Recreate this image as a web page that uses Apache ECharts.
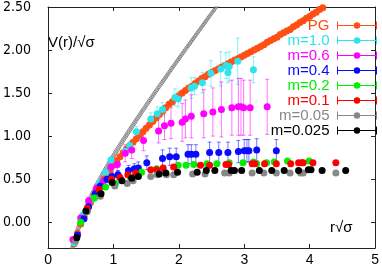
<!DOCTYPE html>
<html><head><meta charset="utf-8">
<script src="https://cdn.jsdelivr.net/npm/echarts@6/dist/echarts.min.js"></script>
<style>html,body{margin:0;padding:0;background:#fff}#c{width:382px;height:269px}</style>
</head><body><div id="c"></div>
<script>
// ---- axes ----
const xTicks = [0, 1, 2, 3, 4, 5];
const yTicks = [0, 0.5, 1, 1.5, 2, 2.5];

// ---- gray reference curves ----
const curveR  = [0.34,0.38,0.42,0.46,0.5,0.55,0.6,0.7,0.8,0.9,1.0,1.2,1.4,1.6,1.8,2.0,2.2,2.4,2.6,2.7];
const curveV1 = [-0.480,-0.351,-0.242,-0.144,-0.054,0.048,0.141,0.308,0.458,0.597,0.728,0.976,1.209,1.435,1.653,1.870,2.082,2.293,2.502,2.606];
const curveV2 = [-0.427,-0.302,-0.197,-0.101,-0.013,0.087,0.177,0.341,0.489,0.625,0.755,1.001,1.232,1.456,1.674,1.890,2.101,2.312,2.521,2.625];
const curveV3 = [-0.374,-0.254,-0.151,-0.059,0.027,0.125,0.213,0.374,0.520,0.654,0.782,1.026,1.255,1.478,1.695,1.910,2.121,2.331,2.540,2.644];
const curveV4 = [-0.321,-0.205,-0.105,-0.016,0.067,0.163,0.249,0.407,0.550,0.682,0.809,1.050,1.278,1.500,1.716,1.930,2.140,2.350,2.558,2.662];

// ---- PG : [r, V, err] ----
const pgData = [[0.40,-0.25,0.02],[0.45,-0.13,0.02],[0.50,-0.02,0.02],[0.55,0.07,0.02],[0.60,0.15,0.02],[0.65,0.23,0.02],[0.70,0.30,0.02],[0.75,0.37,0.02],[0.80,0.43,0.02],[0.85,0.49,0.02],[0.90,0.55,0.02],[0.95,0.61,0.02],[1.00,0.66,0.02],[1.05,0.71,0.02],[1.10,0.76,0.02],[1.15,0.81,0.02],[1.20,0.85,0.02],[1.25,0.89,0.02],[1.30,0.93,0.02],[1.35,0.97,0.02],[1.40,1.01,0.02],[1.45,1.05,0.02],[1.50,1.09,0.02],[1.55,1.13,0.02],[1.60,1.17,0.02],[1.65,1.21,0.02],[1.70,1.25,0.02],[1.75,1.29,0.02],[1.80,1.33,0.02],[1.85,1.37,0.02],[1.90,1.40,0.02],[1.95,1.44,0.02],[2.00,1.47,0.02],[2.05,1.50,0.02],[2.10,1.53,0.02],[2.15,1.56,0.02],[2.20,1.58,0.02],[2.25,1.61,0.02],[2.30,1.64,0.02],[2.35,1.67,0.02],[2.40,1.69,0.02],[2.45,1.72,0.02],[2.50,1.74,0.02],[2.55,1.76,0.02],[2.60,1.78,0.02],[2.65,1.80,0.02],[2.70,1.82,0.02],[2.75,1.84,0.02],[2.80,1.86,0.02],[2.85,1.88,0.02],[2.90,1.90,0.02],[2.95,1.92,0.02],[3.00,1.94,0.02],[3.05,1.96,0.02],[3.10,1.98,0.02],[3.15,2.00,0.02],[3.20,2.02,0.02],[3.25,2.04,0.02],[3.30,2.06,0.02],[3.35,2.09,0.02],[3.40,2.11,0.02],[3.45,2.13,0.02],[3.50,2.15,0.02],[3.55,2.18,0.02],[3.60,2.20,0.02],[3.65,2.22,0.02],[3.70,2.24,0.02],[3.75,2.27,0.02],[3.80,2.29,0.02],[3.85,2.32,0.02],[3.90,2.34,0.02],[3.95,2.37,0.02],[4.00,2.39,0.02],[4.05,2.42,0.02],[4.10,2.44,0.02],[4.15,2.47,0.02],[4.20,2.49,0.02]];

// ---- m=1.0 ----
const m10Data = [[0.40,-0.24,0.02],[0.53,0.08,0.02],[0.68,0.27,0.03],[0.79,0.46,0.03],[0.88,0.58,0.04],[0.96,0.72,0.04],[1.18,0.82,0.05],[1.25,0.89,0.05],[1.35,1.05,0.06],[1.57,1.20,0.07],[1.67,1.26,0.08],[1.75,1.31,0.08],[1.94,1.45,0.10],[1.99,1.43,0.09],[2.19,1.56,0.12],[2.24,1.58,0.10],[2.36,1.62,0.12],[2.49,1.73,0.15],[2.64,1.78,0.20],[2.72,1.82,0.15],[2.75,1.74,0.12],[2.77,1.81,0.17],[2.90,1.87,0.27],[3.14,1.77,0.15]];

// ---- m=0.6 ----
const m06Data = [[0.38,-0.20,0.02],[0.50,0.05,0.03],[0.62,0.25,0.04],[0.74,0.39,0.05],[0.84,0.47,0.06],[0.96,0.64,0.08],[1.06,0.67,0.08],[1.18,0.80,0.10],[1.28,0.84,0.10],[1.46,0.95,0.12],[1.69,1.06,0.14],[1.78,1.12,0.16],[1.88,1.15,0.18],[2.05,1.16,0.22],[2.10,1.20,0.22],[2.19,1.23,0.25],[2.38,1.26,0.28],[2.52,1.28,0.28],[2.65,1.31,0.32],[2.81,1.33,0.32],[2.91,1.34,0.33],[2.95,1.34,0.33],[2.99,1.33,0.32],[3.09,1.33,0.32],[3.35,1.34,0.32]];

// ---- m=0.4 ----
const m04Data = [[0.45,-0.15,0.02],[0.55,0.04,0.02],[0.62,0.18,0.03],[0.72,0.33,0.03],[0.80,0.42,0.04],[0.90,0.50,0.04],[0.98,0.53,0.05],[1.07,0.55,0.05],[1.23,0.60,0.06],[1.32,0.62,0.06],[1.38,0.63,0.07],[1.51,0.69,0.08],[1.75,0.74,0.10],[1.86,0.76,0.10],[1.96,0.76,0.10],[2.14,0.79,0.11],[2.19,0.79,0.11],[2.26,0.79,0.11],[2.47,0.81,0.12],[2.61,0.81,0.12],[2.75,0.81,0.12],[2.91,0.82,0.13],[3.00,0.83,0.13],[3.04,0.83,0.13],[3.07,0.83,0.13],[3.19,0.84,0.13],[3.49,0.83,0.13]];

// ---- m=0.2 ----
const m02Data = [[0.50,0.00],[0.71,0.28],[0.88,0.41],[1.03,0.45],[1.26,0.52],[1.43,0.58],[1.66,0.62],[1.99,0.66],[2.11,0.66],[2.23,0.67],[2.43,0.68],[2.58,0.68],[2.77,0.69],[2.98,0.69],[3.14,0.70],[3.19,0.68],[3.34,0.69],[3.46,0.70],[3.66,0.71],[3.99,0.71]];

// ---- m=0.1 ----
const m01Data = [[0.42,-0.20],[0.60,0.16],[0.78,0.38],[0.97,0.50],[1.10,0.52],[1.22,0.55],[1.34,0.57],[1.57,0.61],[1.66,0.61],[1.76,0.63],[1.92,0.64],[2.33,0.66],[2.47,0.66],[2.72,0.67],[2.76,0.67],[3.12,0.68],[3.16,0.68],[3.31,0.68],[3.49,0.68],[3.71,0.68],[3.83,0.69],[3.88,0.69],[3.90,0.69],[4.05,0.69],[4.40,0.69]];

// ---- m=0.05 ----
const m005Data = [[0.42,-0.22],[0.60,0.12],[0.80,0.30],[1.02,0.42],[1.21,0.45],[1.30,0.48],[1.57,0.53],[1.67,0.55],[1.81,0.55],[1.92,0.55],[2.21,0.56],[2.40,0.56],[2.70,0.57],[2.77,0.57],[3.12,0.57],[3.30,0.57],[3.49,0.57],[3.70,0.57],[3.86,0.57],[3.90,0.57],[4.40,0.57]];

// ---- m=0.025 ----
const m0025Data = [[0.44,-0.18],[0.58,0.13],[0.81,0.33],[0.98,0.46],[1.13,0.48],[1.28,0.51],[1.38,0.53],[1.70,0.56],[1.80,0.57],[1.98,0.58],[2.28,0.58],[2.42,0.60],[2.55,0.60],[2.80,0.60],[2.85,0.60],[2.96,0.60],[3.23,0.60],[3.42,0.60],[3.61,0.60],[3.83,0.60],[3.98,0.61],[4.02,0.61],[4.19,0.60],[4.55,0.60]];

const seriesDefs = [
  {name: 'PG',      color: '#ff4f14', data: pgData},
  {name: 'm=1.0',   color: '#2ee4ec', data: m10Data},
  {name: 'm=0.6',   color: '#ff00ff', data: m06Data},
  {name: 'm=0.4',   color: '#0a0aff', data: m04Data},
  {name: 'm=0.2',   color: '#00f000', data: m02Data},
  {name: 'm=0.1',   color: '#ff0000', data: m01Data},
  {name: 'm=0.05',  color: '#888888', data: m005Data},
  {name: 'm=0.025', color: '#000000', data: m0025Data}
];

const FONT = 'Liberation Sans, Arial, sans-serif';
const NARROW = '"Liberation Sans Narrow", "DejaVu Sans Condensed", "Arial Narrow", sans-serif';
const legendIcon = 'path://M5,0h1v8h-1Z M44,0h1v8h-1Z M5,3.5h40v1h-40Z M25,0.8A3.2,3.2 0 1,1 24.99,0.8Z';

const series = [];
[curveV1, curveV2, curveV3, curveV4].forEach(cv => {
  series.push({
    type: 'line', data: curveR.map((r, i) => [r, cv[i]]), smooth: true,
    showSymbol: false, silent: true, lineStyle: {color: '#7a7a7a', width: 1}, clip: true, z: 1
  });
});

seriesDefs.forEach(def => {
  if (def.data[0].length > 2) {
    series.push({
      type: 'custom', name: def.name + ' err', data: def.data, clip: true, silent: true,
      renderItem: (params, api) => {
        const x = api.value(0), y = api.value(1), e = api.value(2);
        const top = api.coord([x, y + e]);
        const bot = api.coord([x, y - e]);
        const w = 2;
        const st = {stroke: def.color, lineWidth: 1, opacity: 0.55};
        return {type: 'group', children: [
          {type: 'line', shape: {x1: top[0], y1: top[1], x2: bot[0], y2: bot[1]}, style: st},
          {type: 'line', shape: {x1: top[0] - w, y1: top[1], x2: top[0] + w, y2: top[1]}, style: st},
          {type: 'line', shape: {x1: bot[0] - w, y1: bot[1], x2: bot[0] + w, y2: bot[1]}, style: st}
        ]};
      },
      encode: {x: 0, y: 1}, z: 2
    });
  }
  series.push({
    type: 'scatter', name: def.name, data: def.data.map(d => [d[0], d[1]]),
    symbol: 'circle', symbolSize: 7, itemStyle: {color: def.color, opacity: 1}, z: 2, clip: true
  });
});

const chart = echarts.init(document.getElementById('c'), null, {renderer: 'canvas'});
chart.setOption({
  animation: false,
  backgroundColor: '#ffffff',
  grid: {left: 38, right: 4, top: 6, bottom: 21, containLabel: false},
  xAxis: [
    {type: 'value', min: 0, max: 5, interval: 1, position: 'bottom',
     axisLine: {show: true, onZero: false, lineStyle: {color: '#222', width: 1}},
     axisTick: {show: true, inside: true, length: 4, lineStyle: {color: '#222'}},
     axisLabel: {show: true, margin: 5, fontSize: 14, color: '#000', fontFamily: FONT},
     splitLine: {show: false}},
    {type: 'value', min: 0, max: 5, interval: 1, position: 'top',
     axisLine: {show: true, onZero: false, lineStyle: {color: '#222', width: 1}},
     axisTick: {show: true, inside: true, length: 4, lineStyle: {color: '#222'}},
     axisLabel: {show: false}, splitLine: {show: false}}
  ],
  yAxis: [
    {type: 'value', min: -0.3, max: 2.5, position: 'left',
     axisLine: {show: true, onZero: false, lineStyle: {color: '#222', width: 1}},
     axisTick: {show: true, inside: true, length: 4, lineStyle: {color: '#222'}, customValues: yTicks},
     axisLabel: {show: true, margin: 17, fontSize: 14, color: '#000', fontFamily: NARROW,
                 customValues: yTicks, formatter: v => v.toFixed(2)},
     splitLine: {show: false}},
    {type: 'value', min: -0.3, max: 2.5, position: 'right',
     axisLine: {show: true, onZero: false, lineStyle: {color: '#222', width: 1}},
     axisTick: {show: true, inside: true, length: 4, lineStyle: {color: '#222'}, customValues: yTicks},
     axisLabel: {show: false}, splitLine: {show: false}}
  ],
  legend: {
    orient: 'vertical', right: 5, top: 18, padding: 0, itemGap: 0,
    itemWidth: 45, itemHeight: 8, align: 'right', icon: legendIcon, selectedMode: false,
    textStyle: {fontSize: 15, fontFamily: FONT, lineHeight: 15},
    data: seriesDefs.map(d => ({name: d.name, textStyle: {color: d.color}}))
  },
  graphic: [
    {type: 'text', x: 48, y: 43, style: {text: 'V(r)/√σ', font: '15px ' + FONT, fill: '#000', verticalAlign: 'middle'}},
    {type: 'text', x: 330, y: 228, style: {text: 'r√σ', font: '15px ' + FONT, fill: '#000', verticalAlign: 'middle'}}
  ],
  series: series
});
</script></body></html>
